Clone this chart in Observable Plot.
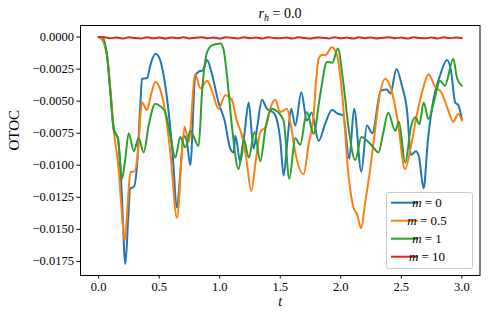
<!DOCTYPE html>
<html>
<head>
<meta charset="utf-8">
<script src="https://cdn.jsdelivr.net/npm/d3@7"></script>
<script src="https://cdn.jsdelivr.net/npm/@observablehq/plot@0.6"></script>
<style>
  body { margin: 0; background: white; }
  #chart { width: 488px; height: 322px; }
  #chart svg, #chart svg text { font-family: "Liberation Serif", "Times New Roman", Times, serif !important; }
</style>
</head>
<body>
<div id="chart"></div>
<script>
// Values of OTOC are given in units of 1e-3
const SCALE = 1e-3;

const tM0 = [0, 0.03, 0.07, 0.10, 0.124, 0.16, 0.19, 0.22, 0.245, 0.26, 0.29, 0.317, 0.344, 0.358, 0.40, 0.427, 0.468, 0.495, 0.537, 0.578, 0.61, 0.647, 0.675, 0.702, 0.725, 0.757, 0.798, 0.826, 0.86, 0.895, 0.936, 0.99, 1.04, 1.087, 1.115, 1.129, 1.17, 1.205, 1.239, 1.28, 1.31, 1.349, 1.39, 1.43, 1.459, 1.50, 1.528, 1.56, 1.59, 1.624, 1.674, 1.72, 1.76, 1.817, 1.87, 1.927, 1.98, 2.02, 2.07, 2.11, 2.17, 2.216, 2.26, 2.33, 2.38, 2.41, 2.46, 2.505, 2.546, 2.58, 2.62, 2.645, 2.684, 2.72, 2.767, 2.82, 2.877, 2.91, 2.945, 2.97, 3.0];
const yM0 = [0, -0.2, -1.5, -4.5, -7.2, -7.9, -12, -17.7, -14, -11.8, -11.7, -10.0, -5.3, -3.25, -3.2, -2.2, -1.3, -1.5, -3.0, -5.85, -9, -13.3, -10.5, -7.7, -8.0, -10.0, -3.0, -2.7, -2.6, -1.8, -2.9, -5.1, -6.5, -8.7, -9.0, -7.7, -9.75, -7.5, -5.1, -8.7, -7.0, -4.9, -5.6, -5.8, -6.1, -8.0, -10.8, -8, -5.6, -6.9, -4.3, -6.5, -5.9, -8.1, -6.8, -5.7, -6.0, -6.1, -9.5, -5.6, -10.5, -6.9, -7.5, -4.2, -4.1, -4.4, -2.5, -3.8, -5.6, -9.2, -8.9, -9.3, -11.8, -8, -4.8, -3.0, -1.8, -2.6, -5.1, -5.3, -6.4];

const tM05 = [0, 0.03, 0.07, 0.10, 0.124, 0.165, 0.19, 0.215, 0.24, 0.262, 0.29, 0.32, 0.358, 0.399, 0.43, 0.468, 0.509, 0.55, 0.592, 0.647, 0.688, 0.71, 0.743, 0.798, 0.84, 0.895, 0.94, 0.99, 1.046, 1.10, 1.14, 1.184, 1.22, 1.26, 1.30, 1.335, 1.38, 1.42, 1.459, 1.50, 1.555, 1.59, 1.624, 1.693, 1.734, 1.775, 1.80, 1.817, 1.845, 1.872, 1.927, 1.968, 2.01, 2.064, 2.105, 2.133, 2.169, 2.20, 2.24, 2.28, 2.326, 2.367, 2.42, 2.47, 2.53, 2.58, 2.63, 2.68, 2.725, 2.78, 2.83, 2.88, 2.93, 2.97, 3.0];
const yM05 = [0, -0.2, -1.5, -4.5, -7.2, -10.3, -13.5, -15.9, -13, -10.5, -10.5, -9.5, -5.1, -5.7, -4.6, -3.5, -4.1, -5.85, -9.0, -14.1, -9.0, -7.0, -8.2, -2.9, -4.0, -3.4, -4.3, -5.6, -4.55, -4.9, -6.5, -7.7, -9.5, -12.0, -9.5, -7.4, -7.0, -5.5, -4.9, -5.85, -5.6, -7.0, -9.0, -10.7, -8.4, -6.1, -3.0, -1.7, -1.4, -1.4, -0.8, -1.4, -4.3, -10.8, -13.3, -13.8, -14.9, -13.0, -10.5, -7.5, -4.3, -3.25, -4.2, -6.5, -10.3, -8.5, -6.0, -4.0, -2.9, -3.9, -4.3, -5.5, -6.6, -6.0, -6.5];

const tM1 = [0, 0.03, 0.07, 0.096, 0.124, 0.16, 0.193, 0.22, 0.248, 0.29, 0.33, 0.372, 0.413, 0.468, 0.509, 0.55, 0.592, 0.633, 0.674, 0.716, 0.757, 0.826, 0.854, 0.895, 0.936, 1.005, 1.03, 1.06, 1.10, 1.156, 1.20, 1.24, 1.288, 1.335, 1.38, 1.43, 1.459, 1.527, 1.575, 1.624, 1.665, 1.72, 1.775, 1.83, 1.886, 1.93, 1.976, 2.02, 2.07, 2.12, 2.17, 2.22, 2.26, 2.312, 2.35, 2.392, 2.45, 2.48, 2.532, 2.58, 2.615, 2.65, 2.684, 2.725, 2.77, 2.82, 2.86, 2.93, 2.96, 3.0];
const yM1 = [0, 0, -1.5, -4.3, -7.15, -8.0, -11.05, -9.5, -7.5, -8.9, -7.9, -9.0, -6.9, -5.2, -5.4, -5.85, -7.7, -9.4, -7.8, -8.6, -7.3, -8.5, -4.3, -1.2, -0.65, -0.5, -0.9, -3.0, -6.9, -10.3, -8.0, -9.4, -7.4, -9.7, -7.0, -5.6, -5.7, -6.5, -11.05, -7.9, -8.4, -5.85, -7.55, -4.5, -1.95, -2.0, -0.9, -3.5, -7.5, -9.6, -7.8, -8.1, -8.5, -9.0, -7.5, -5.9, -7.3, -6.6, -9.8, -7.0, -6.25, -6.8, -5.1, -6.4, -5.0, -3.4, -3.8, -1.7, -3.2, -3.8];

const tM10 = [0, 0.05, 0.1, 0.15, 0.2, 0.25, 0.3, 0.35, 0.4, 0.45, 0.5, 0.55, 0.6, 0.65, 0.7, 0.75, 0.8, 0.85, 0.9, 0.95, 1.0, 1.05, 1.1, 1.15, 1.2, 1.25, 1.3, 1.35, 1.4, 1.45, 1.5, 1.55, 1.6, 1.65, 1.7, 1.75, 1.8, 1.85, 1.9, 1.95, 2.0, 2.05, 2.1, 2.15, 2.2, 2.25, 2.3, 2.35, 2.4, 2.45, 2.5, 2.55, 2.6, 2.65, 2.7, 2.75, 2.8, 2.85, 2.9, 2.95, 3.0];
const yM10 = [0, -0.02, -0.1, -0.03, -0.12, -0.01, -0.08, -0.11, -0.02, -0.1, -0.04, -0.12, -0.03, -0.09, -0.01, -0.11, -0.05, -0.02, -0.1, -0.03, -0.12, -0.02, -0.06, -0.11, -0.02, -0.09, -0.04, -0.12, -0.01, -0.08, -0.1, -0.03, -0.11, -0.02, -0.07, -0.12, -0.03, -0.05, -0.11, -0.02, -0.1, -0.04, -0.12, -0.02, -0.09, -0.03, -0.11, -0.05, -0.02, -0.1, -0.03, -0.12, -0.02, -0.08, -0.1, -0.03, -0.11, -0.02, -0.09, -0.04, -0.07];

const seriesNames = ["m = 0", "m = 0.5", "m = 1", "m = 10"];
const seriesColors = ["#1f77b4", "#ff7f0e", "#2ca02c", "#d62728"];
const xTicks = [0, 0.5, 1.0, 1.5, 2.0, 2.5, 3.0];
const yTicks = [0, -0.0025, -0.005, -0.0075, -0.01, -0.0125, -0.015, -0.0175];

const allT = [tM0, tM05, tM1, tM10];
const allY = [yM0, yM05, yM1, yM10];
const rows = [];
allT.forEach((ts, i) => ts.forEach((t, j) => rows.push({t, v: allY[i][j] * SCALE, s: seriesNames[i]})));

const font = "Liberation Serif";

const chart = Plot.plot({
  width: 488,
  height: 322,
  marginLeft: 80,
  marginRight: 8.5,
  marginTop: 25,
  marginBottom: 47,
  style: {fontFamily: font, fontSize: "12.5px", color: "black", background: "white", overflow: "visible"},
  x: {domain: [-0.15, 3.15]},
  y: {domain: [-0.0186, 0.0009]},
  color: {domain: seriesNames, range: seriesColors},
  marks: [
    Plot.line(rows, {x: "t", y: "v", z: "s", stroke: "s", strokeWidth: 2, curve: "monotone-x"}),
    Plot.frame({stroke: "black", strokeWidth: 1}),
    Plot.axisX({ticks: xTicks, tickFormat: d => d.toFixed(1), tickSize: 3.5, tickPadding: 3, label: null, fontSize: 12.5}),
    Plot.axisY({ticks: yTicks, tickFormat: d => d === 0 ? "0.0000" : "\u2212" + Math.abs(d).toFixed(4), tickSize: 3.5, tickPadding: 3, label: null, fontSize: 12.5}),
    Plot.text(["OTOC"], {frameAnchor: "left", dx: -66, rotate: -90, text: d => d, fontSize: 15, fill: "black"}),
    Plot.text(["t"], {frameAnchor: "bottom", dy: 30, text: d => d, fontSize: 14, fontStyle: "italic", fill: "black"})
  ]
});
document.getElementById("chart").appendChild(chart);

const svg = d3.select(chart);
// Title
const title = svg.append("text")
  .attr("x", 280).attr("y", 18)
  .attr("text-anchor", "middle")
  .attr("font-family", font)
  .attr("font-size", 14)
  .attr("fill", "black");
title.append("tspan").attr("font-style", "italic").text("r");
title.append("tspan").attr("font-style", "italic").attr("font-size", 10).attr("dy", 3).text("h");
title.append("tspan").attr("dy", -3).text(" = 0.0");

// Legend
const lg = svg.append("g").attr("font-family", font).attr("font-size", 13);
lg.append("rect").attr("x", 386.5).attr("y", 192.5).attr("width", 86).attr("height", 76)
  .attr("rx", 2.5).attr("fill", "white").attr("fill-opacity", 0.85).attr("stroke", "#cccccc");
const labelParts = [["m", " = 0"], ["m", " = 0.5"], ["m", " = 1"], ["m", " = 10"]];
seriesNames.forEach((name, i) => {
  const y = 202.7 + i * 18;
  lg.append("line").attr("x1", 391).attr("x2", 418).attr("y1", y).attr("y2", y)
    .attr("stroke", seriesColors[i]).attr("stroke-width", 2);
  const tx = lg.append("text").attr("x", 427).attr("y", y + 4.5).attr("fill", "black");
  tx.append("tspan").attr("font-style", "italic").text(labelParts[i][0]);
  tx.append("tspan").text(labelParts[i][1]);
});
</script>
</body>
</html>
